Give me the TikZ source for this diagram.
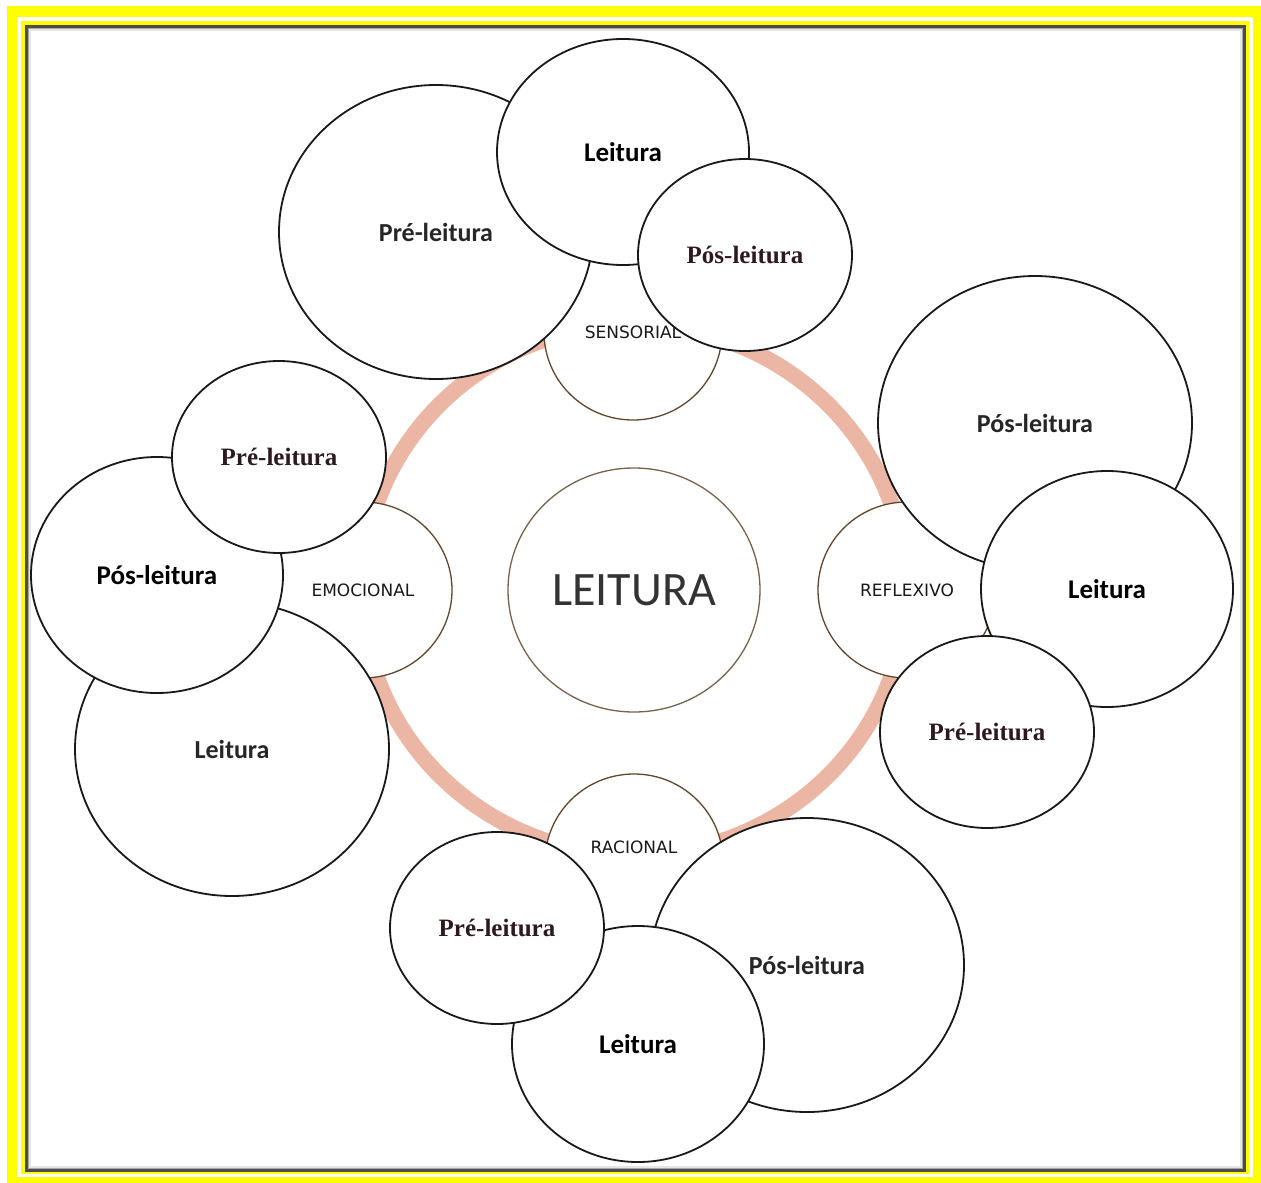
\documentclass[tikz,border=0pt]{standalone}
\usepackage{fontspec}
\usetikzlibrary{shapes.geometric}
\newfontfamily\carl{Carlito}
\newfontfamily\libser{Liberation Serif}
\newfontfamily\dejav{DejaVu Sans}
\definecolor{ringc}{RGB}{236,182,164}
\definecolor{framey}{RGB}{255,255,0}
\definecolor{catline}{RGB}{95,70,45}
\definecolor{serifink}{RGB}{45,25,30}
\tikzset{
  bubble/.style={ellipse, draw=black!90, line width=1.8pt, fill=white, inner sep=0pt},
  bigc/.style={bubble, minimum width=314pt, minimum height=294pt, font=\carl\bfseries\fontsize{26}{30}\selectfont, text=black!85},
  midc/.style={bubble, minimum width=252pt, minimum height=236pt, font=\carl\bfseries\fontsize{27}{30}\selectfont},
  smallc/.style={bubble, minimum width=214pt, minimum height=192pt, font=\libser\bfseries\fontsize{25}{28}\selectfont, text=serifink},
  catlbl/.style={font=\dejav\fontsize{17}{17}\selectfont, text=black!90},
  catc/.style={ellipse, draw=catline, line width=1.3pt, fill=white, minimum width=178pt, minimum height=176pt, inner sep=0pt, catlbl},
}

\begin{document}
\begin{tikzpicture}[x=1pt,y=-1pt]
\useasboundingbox (0,0) rectangle (1261,1183);
% moldura
\fill[white] (0,0) rectangle (1261,1183);
\fill[framey] (7,6) rectangle (1261,1183);
\fill[white] (17,17) rectangle (1253,1177);
\fill[framey] (21,21) rectangle (1249,1174);
\fill[black!70] (24.5,24.5) rectangle (1246,1172);
\fill[black!35] (27.5,27.5) rectangle (1243,1169);
\fill[black!10] (29,29) rectangle (1241.5,1167.5);
\fill[white] (31,31) rectangle (1239.5,1165.5);

\node[ellipse, draw=ringc, line width=16pt, minimum width=544pt, minimum height=530pt] (ring) at (634,590) {};
\node[ellipse, draw=catline!85, line width=1.3pt, minimum width=252pt, minimum height=244pt, font=\carl\fontsize{48}{50}\selectfont, text=black!80] (leitura) at (634,590) {LEITURA};

\node[catc] (sensorial) at (633,332) {SENSORIAL};
\node[catc, label={[catlbl, yshift=15pt]center:RACIONAL}] (racional) at (634,862) {};
\node[catc] (emocional) at (363,590) {EMOCIONAL};
\node[catc] (reflexivo) at (907,590) {REFLEXIVO};

% sensorial
\node[bigc] (pre-s) at (436,232) {Pré-leitura};
\node[midc, minimum height=226pt] (lei-s) at (623,152) {Leitura};
\node[smallc] (pos-s) at (745,255) {Pós-leitura};

% reflexivo
\node[bigc] (pos-r) at (1035,423) {Pós-leitura};
\node[midc] (lei-r) at (1107,589) {Leitura};
\node[smallc] (pre-r) at (987,732) {Pré-leitura};

% emocional
\node[bigc] (lei-e) at (232,749) {Leitura};
\node[midc] (pos-e) at (157,575) {Pós-leitura};
\node[smallc] (pre-e) at (279,457) {Pré-leitura};

% racional
\node[bigc] (pos-ra) at (807,965) {Pós-leitura};
\node[midc] (lei-ra) at (638,1044) {Leitura};
\node[smallc] (pre-ra) at (497,928) {Pré-leitura};
\end{tikzpicture}
\end{document}
